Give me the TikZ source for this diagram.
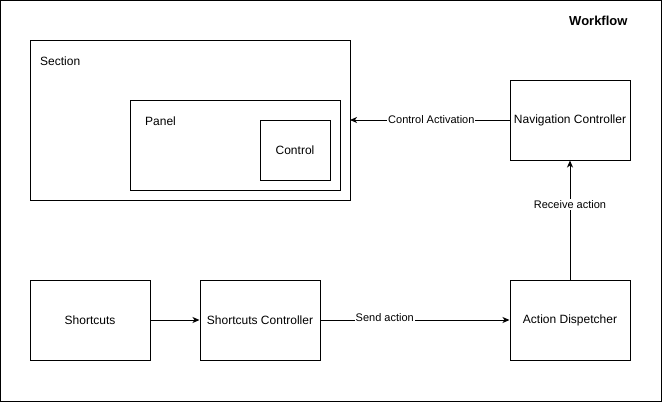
\documentclass[tikz,border=0pt]{standalone}
\usepackage{fontspec}
\setmainfont{Liberation Sans}
\usetikzlibrary{arrows.meta}
\begin{document}
\begin{tikzpicture}[x=1pt,y=-1pt,
  box/.style={draw=black,line width=1pt,fill=white},
  lbl/.style={font=\fontsize{12}{14}\selectfont,inner sep=1pt},
  elbl/.style={font=\fontsize{11}{13}\selectfont,fill=white,inner sep=1pt},
  conn/.style={line width=1pt,-{Stealth[length=7pt,width=6pt,inset=2pt]}}]
\useasboundingbox (0,0) rectangle (662,402);
\draw[line width=1pt] (0.5,0.5) rectangle (661.5,401.5);
\node[font=\fontsize{13}{15}\selectfont\bfseries,anchor=east] (wf) at (631,21) {Workflow};
% Section
\draw[box] (30,40) rectangle (350,200);
\node[lbl,anchor=west] (sec) at (39,61) {Section};
\coordinate (secR) at (350,120);
% Panel
\draw[box] (130,100) rectangle (340,190);
\node[lbl,anchor=west] (pan) at (144,121) {Panel};
% Control
\node[box,lbl,minimum width=70pt,minimum height=60pt] (ctl) at (295,150) {Control};
% Navigation Controller
\node[box,lbl,minimum width=120pt,minimum height=80pt] (nav) at (570,120) {Navigation Controller};
% Bottom row
\node[box,lbl,minimum width=120pt,minimum height=80pt] (sc) at (90,320) {Shortcuts};
\node[box,lbl,minimum width=120pt,minimum height=80pt] (scc) at (260,320) {Shortcuts Controller};
\node[box,lbl,minimum width=120pt,minimum height=80pt] (ad) at (570,320) {Action Dispetcher};
% Connectors
\draw[conn] (sc) -- (scc);
\draw[conn] (scc) -- node[elbl,pos=0.34,yshift=2pt]{Send action} (ad);
\draw[conn] (ad) -- node[elbl,pos=0.63]{Receive action} (nav);
\draw[conn] (nav.west) -- node[elbl,pos=0.49]{Control Activation} (secR);
\end{tikzpicture}
\end{document}
